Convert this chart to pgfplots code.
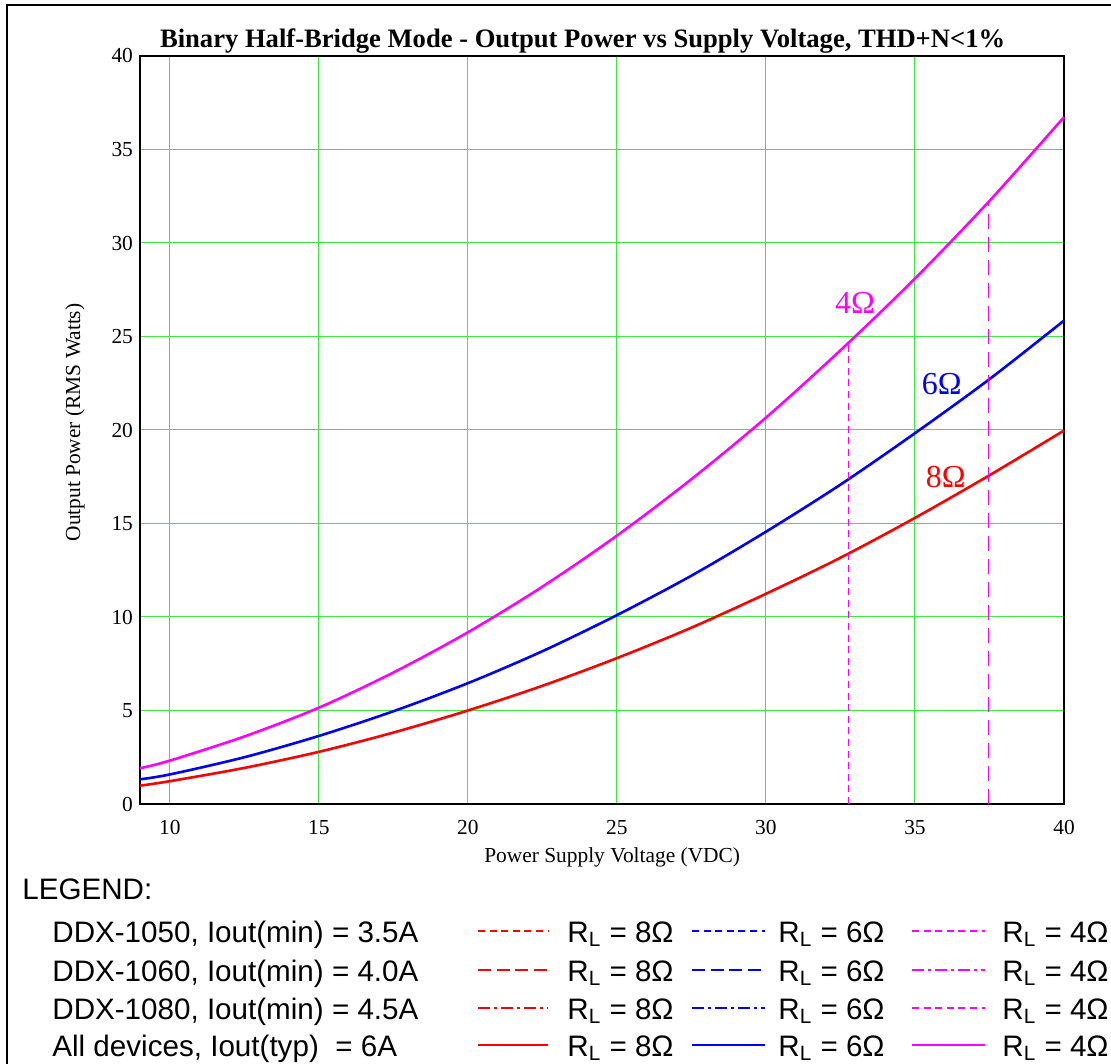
\documentclass[border=0pt]{standalone}
\usepackage{fontspec}
\setmainfont{Liberation Serif}
\newfontfamily\arialfont{Liberation Sans}
\usepackage{pgfplots}
\pgfplotsset{compat=1.18}

\definecolor{gridgreen}{RGB}{60,235,60}
\definecolor{mag}{RGB}{255,0,255}
\definecolor{rred}{RGB}{255,0,0}
\definecolor{bblue}{RGB}{0,0,255}

\tikzset{
  shortdash/.style={dash pattern=on 3.5pt off 2.3pt},
  longdash/.style={dash pattern=on 6.5pt off 2.8pt},
  dashdot/.style={dash pattern=on 6pt off 2pt on 1.5pt off 2pt},
}

\begin{document}
\begin{tikzpicture}
% page = 1111 x 1063 px at 0.5pt per px, origin at the axis' lower left corner
\path[use as bounding box] (-70pt,-129.5pt) rectangle (485.5pt,402pt);
\draw[line width=1.2pt] (-66.5pt,-140pt) -- (-66.5pt,399.5pt) -- (495pt,399.5pt);

\begin{axis}[
  at={(0,0)}, anchor=south west,
  scale only axis, width=462pt, height=374pt,
  xmin=9, xmax=40, ymin=0, ymax=40,
  xtick={10,15,20,25,30,35,40},
  ytick={0,5,10,15,20,25,30,35,40},
  grid=major,
  major grid style={draw=gridgreen, line width=0.5pt},
  axis line style={line width=1.4pt},
  major tick length=0pt,
  /pgf/number format/assume math mode=true,
  tick label style={font=\fontsize{10.7}{12}\selectfont},
  xticklabel style={yshift=-4.5pt},
  label style={font=\fontsize{10.7}{12}\selectfont},
  xlabel={Power Supply Voltage (VDC)},
  xlabel style={at={(axis description cs:0.511,-0.0709)}, anchor=center},
  ylabel={Output Power (RMS Watts)},
  ylabel style={at={(axis description cs:-0.0703,0.51)}, anchor=center},
  title={Binary Half-Bridge Mode - Output Power vs Supply Voltage, THD+N<1\%},
  title style={at={(axis description cs:0.479,1.0147)}, anchor=base, yshift=-7.5pt,
    font=\bfseries\fontsize{13.3}{15}\selectfont},
  clip=false,
]
% 8 ohm
\addplot[rred, line width=1.3pt, smooth] coordinates {
(9,0.98) (10,1.22) (12.5,1.93) (15,2.79) (17.5,3.82) (20,5.00) (22.5,6.32)
(25,7.80) (27.5,9.43) (30,11.24) (32.5,13.17) (35,15.30) (37.5,17.58) (40,19.97)
};
% 6 ohm
\addplot[bblue, line width=1.3pt, smooth] coordinates {
(9,1.32) (10,1.58) (12.5,2.50) (15,3.64) (17.5,4.96) (20,6.46) (22.5,8.17)
(25,10.10) (27.5,12.21) (30,14.56) (32.5,17.08) (35,19.83) (37.5,22.72) (40,25.85)
};
% 4 ohm
\addplot[mag, line width=1.3pt, smooth] coordinates {
(9,1.91) (10,2.32) (12.5,3.61) (15,5.15) (17.5,7.03) (20,9.18) (22.5,11.62)
(25,14.35) (27.5,17.37) (30,20.66) (32.5,24.26) (35,28.10) (37.5,32.25) (40,36.73)
};
% current limits
\addplot[mag, line width=0.8pt, shortdash] coordinates {(32.77,0) (32.77,24.67)};
\addplot[mag, line width=0.8pt, dash pattern=on 7.5pt off 4pt] coordinates {(37.46,0) (37.46,32.15)};

\node[mag, font=\fontsize{16}{18}\selectfont] at (axis cs:32.99,26.78) {4Ω};
\node[bblue, font=\fontsize{16}{18}\selectfont] at (axis cs:35.9,22.44) {6Ω};
\node[rred, font=\fontsize{16}{18}\selectfont] at (axis cs:36.03,17.49) {8Ω};
\end{axis}

\begin{scope}[x=0.5pt, y=0.5pt]
\tikzset{lt/.style={anchor=base west, inner sep=0pt,
  font=\arialfont\fontsize{14.8}{17}\selectfont}}
\node[lt] at (-118,-95) {LEGEND:};
\node[lt] at (-88,-138) {DDX-1050, Iout(min) = 3.5A};
\node[lt] at (-88,-177) {DDX-1060, Iout(min) = 4.0A};
\node[lt] at (-88,-215) {DDX-1080, Iout(min) = 4.5A};
\node[lt] at (-88,-252) {All devices, Iout(typ)\ \ = 6A};

\foreach \yb in {-138,-177,-215,-252} {
  \node[lt] at (427,\yb) {R\textsubscript{L} = 8Ω};
  \node[lt] at (638,\yb) {R\textsubscript{L} = 6Ω};
  \node[lt] at (862,\yb) {R\textsubscript{L} = 4Ω};
}

% row 1
\draw[rred, line width=1pt, shortdash] (338,-127) -- (408,-127);
\draw[bblue, line width=1pt, shortdash] (552,-127) -- (625,-127);
\draw[mag, line width=1pt, shortdash] (772,-127) -- (845,-127);
% row 2
\draw[rred, line width=1pt, longdash] (338,-166) -- (408,-166);
\draw[bblue, line width=1pt, longdash] (552,-166) -- (625,-166);
\draw[mag, line width=1pt, dashdot] (772,-166) -- (845,-166);
% row 3
\draw[rred, line width=1pt, dashdot] (338,-204) -- (408,-204);
\draw[bblue, line width=1pt, dashdot] (552,-204) -- (625,-204);
\draw[mag, line width=1pt, shortdash] (772,-204) -- (845,-204);
% row 4
\draw[rred, line width=1pt] (338,-241) -- (408,-241);
\draw[bblue, line width=1pt] (552,-241) -- (625,-241);
\draw[mag, line width=1pt] (772,-241) -- (845,-241);
\end{scope}
\end{tikzpicture}
\end{document}
